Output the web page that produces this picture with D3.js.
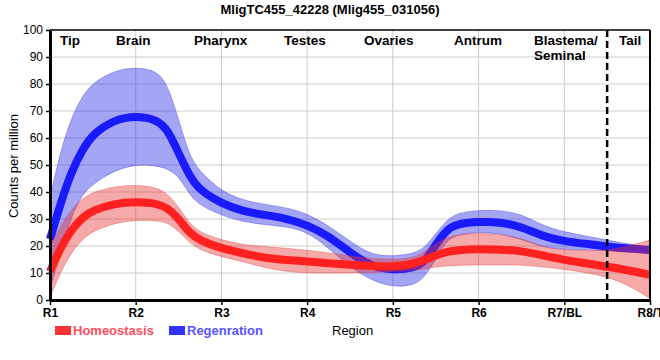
<!DOCTYPE html>
<html>
<head>
<meta charset="utf-8">
<script src="https://cdn.jsdelivr.net/npm/d3@7/dist/d3.min.js"></script>
<style>
  html, body { margin: 0; padding: 0; background: #fff; }
  svg { display: block; font-family: "Liberation Sans", Arial, sans-serif; }
</style>
</head>
<body>
<svg id="chart" width="660" height="360"></svg>
<script>
// ---------- data ----------
const chartTitle = "MligTC455_42228 (Mlig455_031056)";
const regionLabels = ["R1", "R2", "R3", "R4", "R5", "R6", "R7/BL", "R8/T"];
const tissueLabels = ["Tip", "Brain", "Pharynx", "Testes", "Ovaries", "Antrum", "Blastema/\nSeminal", "Tail"];
const yTicks = [0, 10, 20, 30, 40, 50, 60, 70, 80, 90, 100];
const seriesNames = ["Homeostasis", "Regenration"];
const dividerAt = 6.5;

// positions along the body (0 = R1 ... 7 = R8/T)
const xPos = [0, 0.125, 0.25, 0.375, 0.5, 0.75, 1, 1.25, 1.375, 1.5, 1.625, 1.75, 2, 2.25, 2.5, 2.75, 3, 3.25, 3.5, 3.75, 4, 4.25, 4.375, 4.5, 4.625, 4.75, 5, 5.25, 5.5, 5.75, 6, 6.25, 6.5, 6.75, 7];

const regenMean  = [22.5, 36, 47.5, 55.5, 61.5, 66.8, 68.2, 66.8, 63, 54.5, 46, 40.5, 35.8, 32.8, 31.5, 30.3, 27.8, 23.8, 17.5, 12.4, 11, 11.8, 14.2, 20.5, 26, 28.2, 29, 28.9, 27.2, 23.5, 21.8, 20.8, 19.8, 19, 18.5];
const regenUpper = [38, 55.5, 67.5, 75.5, 80.5, 85, 86.2, 85, 79.5, 67, 53.5, 47.5, 40.2, 37, 35.4, 34.3, 32, 27.5, 21.8, 16.6, 16.2, 17.2, 19.5, 24.5, 29.5, 32.2, 33.3, 33.2, 31.9, 27.5, 25.2, 23.7, 22.2, 20.7, 19.5];
const regenLower = [4, 18, 31, 39, 43, 48, 50.2, 49.7, 48.5, 46, 39, 35, 31.3, 29, 27.9, 27.2, 25.3, 19.3, 12.2, 7.2, 4.8, 5.3, 8.7, 15, 22, 24.2, 25.2, 24.6, 22.5, 19.5, 18.7, 18.5, 18.3, 17.8, 17.3];

const homeoMean  = [10.5, 19.5, 26, 30.5, 33.2, 35.7, 36.4, 35.8, 34, 30.2, 24.8, 22, 19.1, 17.3, 15.6, 14.8, 14.3, 13.6, 13, 12.5, 12.3, 13.3, 15, 16.5, 17.8, 18.5, 18.9, 18.7, 18.2, 16.5, 14.8, 13.6, 12.3, 11, 9.3];
const homeoUpper = [20, 27.5, 33.5, 37.5, 40, 42, 42.7, 41.7, 39.2, 34.5, 28.5, 25, 22.2, 20.5, 19.8, 19.2, 18.5, 17.5, 16.2, 15.3, 15, 15.5, 18, 21, 23, 24.2, 24.8, 24.2, 23, 19.5, 18.5, 18.2, 18.3, 20, 22.2];
const homeoLower = [1, 10.5, 17.5, 22.5, 25.5, 28.5, 29.6, 29.3, 28.7, 25.5, 21.3, 18.5, 16, 14.2, 12, 10.5, 10, 10, 10, 10.2, 10.5, 11, 11.6, 12.3, 12.6, 12.8, 13, 13, 13, 12.2, 11.4, 10.2, 8.6, 5.5, 0.6];

// ---------- drawing ----------
(function draw() {
const svg = d3.select("#chart");
const pL = 50, pR = 650, pT = 30, pB = 300;

const x = d3.scaleLinear().domain([0, regionLabels.length - 1]).range([pL, pR]);
const y = d3.scaleLinear().domain([0, 100]).range([pB, pT]);

const toRows = (m, lo, hi) => xPos.map((p, i) => ({ p, m: m[i], lo: lo[i], hi: hi[i] }));
const series = [
  { name: seriesNames[1], rows: toRows(regenMean, regenLower, regenUpper), line: "#1a1aff", band: "rgb(40,40,230)", text: "#5555ff", key: "#3333ff" },
  { name: seriesNames[0], rows: toRows(homeoMean, homeoLower, homeoUpper), line: "#ff2020", band: "rgb(230,50,50)", text: "#ff4d5c", key: "#ff3333" }
];

// grid
const grid = svg.append("g");
grid.selectAll("line.h").data(yTicks.filter(t => t > 0 && t < 100)).join("line")
  .attr("x1", pL).attr("x2", pR).attr("y1", d => y(d)).attr("y2", d => y(d))
  .attr("stroke", "#cccccc").attr("stroke-width", 1);
grid.selectAll("line.v").data(d3.range(1, regionLabels.length - 1)).join("line")
  .attr("x1", d => x(d)).attr("x2", d => x(d)).attr("y1", pT).attr("y2", pB)
  .attr("stroke", "#cccccc").attr("stroke-width", 1);

const curve = d3.curveBasis;
const area = d3.area().x(d => x(d.p)).y0(d => y(d.lo)).y1(d => y(d.hi)).curve(curve);
const line = d3.line().x(d => x(d.p)).y(d => y(d.m)).curve(curve);

series.forEach(s => {
  svg.append("path").datum(s.rows).attr("d", area)
    .attr("fill", s.band).attr("fill-opacity", 0.42)
    .attr("stroke", s.band).attr("stroke-opacity", 0.35).attr("stroke-width", 1);
  svg.append("path").datum(s.rows).attr("d", line)
    .attr("fill", "none").attr("stroke", s.line).attr("stroke-width", 8)
    .attr("stroke-linejoin", "round");
});

// frame
svg.append("line").attr("x1", pL).attr("x2", pR).attr("y1", pT).attr("y2", pT)
  .attr("stroke", "#000").attr("stroke-width", 1.5);
svg.append("line").attr("x1", pR).attr("x2", pR).attr("y1", pT).attr("y2", pB)
  .attr("stroke", "#000").attr("stroke-width", 2);

// divider
svg.append("line").attr("x1", x(dividerAt)).attr("x2", x(dividerAt)).attr("y1", pT).attr("y2", pB + 5)
  .attr("stroke", "#000").attr("stroke-width", 2.5).attr("stroke-dasharray", "7,4");

// axes
const yAxis = svg.append("g").attr("transform", `translate(${pL},0)`)
  .call(d3.axisLeft(y).tickValues(yTicks).tickSize(4).tickPadding(3).tickSizeOuter(0));
yAxis.select(".domain").attr("stroke-width", 3).attr("stroke", "#000");
yAxis.selectAll(".tick line").attr("stroke", "#000").attr("stroke-width", 1.5);
yAxis.selectAll(".tick text").attr("font-size", 12).attr("fill", "#000").attr("font-family", "Liberation Sans, Arial, sans-serif");

const xAxis = svg.append("g").attr("transform", `translate(0,${pB})`)
  .call(d3.axisBottom(x).tickValues(d3.range(regionLabels.length)).tickFormat(i => regionLabels[i]).tickSize(5).tickPadding(3).tickSizeOuter(0));
xAxis.select(".domain").attr("stroke-width", 3).attr("stroke", "#000");
xAxis.selectAll(".tick line").attr("stroke", "#000").attr("stroke-width", 1.5);
xAxis.selectAll(".tick text").attr("font-size", 12).attr("font-weight", "bold").attr("fill", "#000").attr("font-family", "Liberation Sans, Arial, sans-serif");

// tissue labels
const tissueX = [60, 116, 194, 284, 364, 454, 534, 619];
tissueLabels.forEach((t, i) => {
  const lines = t.split("\n");
  const txt = svg.append("text").attr("x", tissueX[i]).attr("y", 45)
    .attr("font-size", 13.5).attr("font-weight", "bold").attr("fill", "#000");
  lines.forEach((l, j) => txt.append("tspan").attr("x", tissueX[i]).attr("dy", j === 0 ? 0 : 15).text(l));
});

// title
svg.append("text").attr("x", 330).attr("y", 13.5).attr("text-anchor", "middle")
  .attr("font-size", 13).attr("font-weight", "bold").text(chartTitle);

// axis titles
svg.append("text").attr("transform", "translate(18,166) rotate(-90)").attr("text-anchor", "middle")
  .attr("font-size", 13).text("Counts per million");
svg.append("text").attr("x", 332).attr("y", 335).attr("font-size", 13).text("Region");

// legend
const legendX = [55, 169];
[series[1], series[0]].forEach((s, i) => {
  svg.append("rect").attr("x", legendX[i]).attr("y", 326).attr("width", 16).attr("height", 9).attr("fill", s.key);
  svg.append("text").attr("x", legendX[i] + 18).attr("y", 335).attr("font-size", 13).attr("font-weight", "bold")
    .attr("fill", s.text).text(s.name);
});
})();
</script>
</body>
</html>
